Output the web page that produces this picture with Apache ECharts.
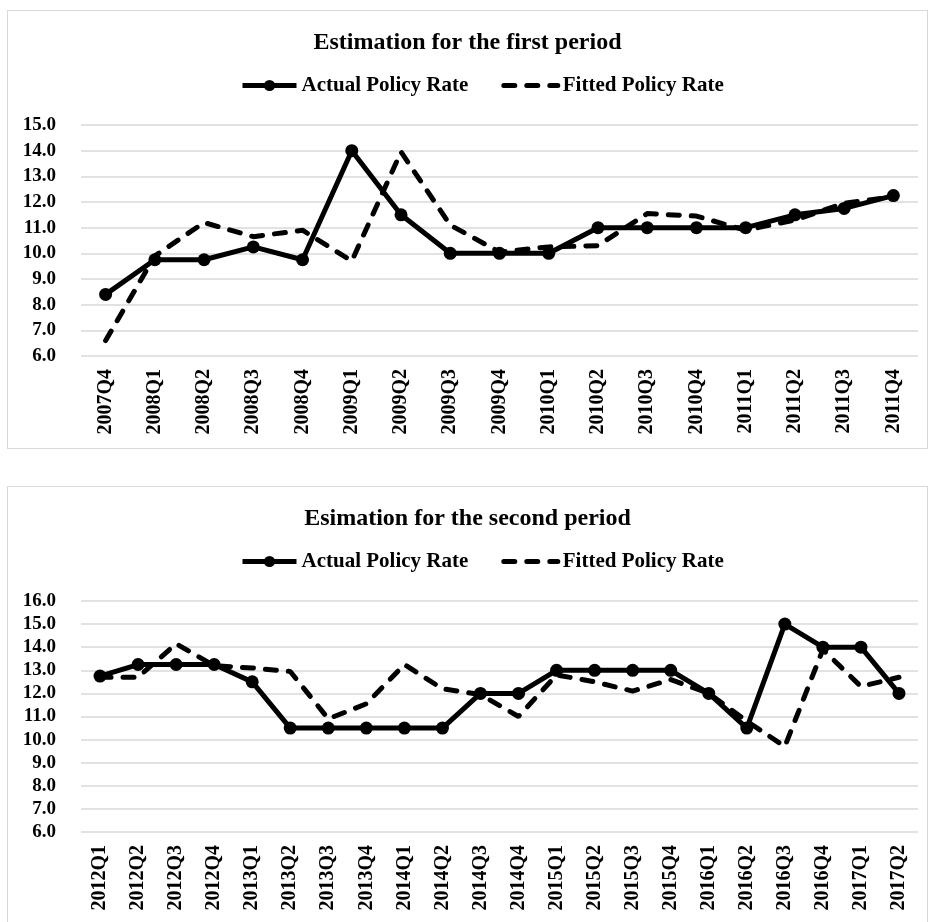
<!DOCTYPE html>
<html>
<head>
<meta charset="utf-8">
<script src="https://cdn.jsdelivr.net/npm/echarts@6/dist/echarts.min.js"></script>
<style>
  html, body { margin: 0; padding: 0; background: #fff; overflow: hidden; width: 929px; height: 922px; }
  .box { position: absolute; left: 7px; width: 921px; height: 439px; border: 1px solid #d9d9d9; box-sizing: border-box; background: #fff; }
</style>
</head>
<body>
<div id="c1" class="box" style="top:10px;"></div>
<div id="c2" class="box" style="top:486px;"></div>
<script>
// ---- Data ----
const title1 = 'Estimation for the first period';
const title2 = 'Esimation for the second period';
const seriesNames = ['Actual Policy Rate', 'Fitted Policy Rate'];

const categories1 = ['2007Q4','2008Q1','2008Q2','2008Q3','2008Q4','2009Q1','2009Q2','2009Q3','2009Q4',
                     '2010Q1','2010Q2','2010Q3','2010Q4','2011Q1','2011Q2','2011Q3','2011Q4'];
const actual1 = [8.4, 9.75, 9.75, 10.25, 9.75, 14.0, 11.5, 10.0, 10.0, 10.0, 11.0, 11.0, 11.0, 11.0, 11.5, 11.75, 12.25];
const fitted1 = [6.6, 9.9, 11.2, 10.65, 10.9, 9.7, 13.95, 11.1, 10.05, 10.25, 10.3, 11.55, 11.45, 10.9, 11.3, 11.95, 12.2];
const yTicks1 = { min: 6, max: 15, step: 1 };

const categories2 = ['2012Q1','2012Q2','2012Q3','2012Q4','2013Q1','2013Q2','2013Q3','2013Q4',
                     '2014Q1','2014Q2','2014Q3','2014Q4','2015Q1','2015Q2','2015Q3','2015Q4',
                     '2016Q1','2016Q2','2016Q3','2016Q4','2017Q1','2017Q2'];
const actual2 = [12.75, 13.25, 13.25, 13.25, 12.5, 10.5, 10.5, 10.5, 10.5, 10.5, 12.0, 12.0, 13.0, 13.0, 13.0, 13.0, 12.0, 10.5, 15.0, 14.0, 14.0, 12.0];
const fitted2 = [12.7, 12.7, 14.15, 13.2, 13.1, 12.95, 10.9, 11.55, 13.25, 12.2, 11.95, 11.0, 12.8, 12.5, 12.1, 12.6, 12.0, 10.8, 9.7, 13.9, 12.3, 12.7];
const yTicks2 = { min: 6, max: 16, step: 1 };

// ---- Chart builder ----
const FONT = "'Liberation Serif', 'Times New Roman', serif";

function buildOption(title, cats, actual, fitted, yt) {
  return {
    animation: false,
    backgroundColor: '#fff',
    title: {
      text: title,
      left: 'center',
      top: 15,
      textStyle: { fontFamily: FONT, fontWeight: 'bold', fontSize: 24, color: '#000' }
    },
    legend: {
      top: 59,
      left: 227,
      itemWidth: 54,
      itemHeight: 14,
      itemGap: 33,
      textStyle: { fontFamily: FONT, fontWeight: 'bold', fontSize: 21, color: '#000' },
      lineStyle: { width: 5 },
      data: [
        { name: seriesNames[0] },
        { name: seriesNames[1], itemStyle: { opacity: 0 } }
      ]
    },
    grid: { left: 73, right: 9, top: 114, bottom: 92, containLabel: false },
    xAxis: {
      type: 'category',
      data: cats,
      boundaryGap: true,
      axisLine: { show: false },
      axisTick: { show: false },
      axisLabel: {
        rotate: 90, interval: 0, margin: 13,
        fontFamily: FONT, fontWeight: 'bold', fontSize: 20, color: '#000'
      }
    },
    yAxis: {
      type: 'value',
      min: yt.min, max: yt.max, interval: yt.step,
      axisLine: { show: false },
      axisTick: { show: false },
      splitLine: { lineStyle: { color: '#d9d9d9', width: 1.5 } },
      axisLabel: {
        margin: 25,
        fontFamily: FONT, fontWeight: 'bold', fontSize: 19, color: '#000',
        formatter: v => v.toFixed(1)
      }
    },
    series: [
      {
        name: seriesNames[0],
        type: 'line',
        data: actual,
        symbol: 'circle',
        symbolSize: 13,
        itemStyle: { color: '#000' },
        lineStyle: { color: '#000', width: 5 },
        z: 3
      },
      {
        name: seriesNames[1],
        type: 'line',
        data: fitted,
        symbol: 'none',
        itemStyle: { color: '#000' },
        lineStyle: { color: '#000', width: 5, type: [11, 12], cap: 'round' },
        z: 2
      }
    ]
  };
}

echarts.init(document.getElementById('c1')).setOption(buildOption(title1, categories1, actual1, fitted1, yTicks1));
echarts.init(document.getElementById('c2')).setOption(buildOption(title2, categories2, actual2, fitted2, yTicks2));
</script>
</body>
</html>
